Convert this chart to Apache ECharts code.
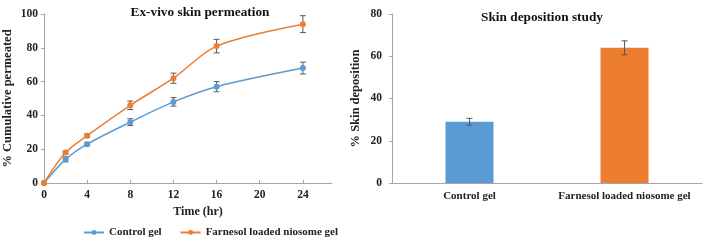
<!DOCTYPE html>
<html>
<head>
<meta charset="utf-8">
<script src="https://cdn.jsdelivr.net/npm/echarts@6/dist/echarts.min.js"></script>
<style>
html, body { margin: 0; padding: 0; background: #fff; }
#chart { width: 705px; height: 241px; }
</style>
</head>
<body>
<div id="chart"></div>
<script>
// permeation data (left)
var times = [0, 2, 4, 8, 12, 16, 24];
var controlPerm = [0, 14, 23, 36, 48, 57, 68];
var controlPermErr = [0, 1.5, 1, 2, 2.5, 3, 3.5];
var farnesolPerm = [0, 18, 28, 46, 62, 81, 94];
var farnesolPermErr = [0, 0.8, 1, 2.5, 3, 4, 5];

// deposition data (right)
var groups = ['Control gel', 'Farnesol loaded niosome gel'];
var deposition = [29, 64];
var depositionErr = [1.6, 3.3];

var serif = '"Liberation Serif", "Times New Roman", serif';
var axisGray = '#a6a6a6';
var blue = '#5b9bd5';
var orange = '#ed7d31';

function pairs(xs, ys) {
    return xs.map(function (x, i) { return [x, ys[i]]; });
}
function errData(xs, ys, es) {
    return xs.map(function (x, i) { return [x, ys[i], es[i]]; });
}

// error bar drawer, works for both value and category x axes
function errorBar(params, api) {
    var x = api.value(0);
    var y = api.value(1);
    var e = api.value(2);
    if (!e) return null;
    var top = api.coord([x, y + e]);
    var bot = api.coord([x, y - e]);
    var w = 3;
    var st = { stroke: '#595959', lineWidth: 1 };
    return {
        type: 'group',
        children: [
            { type: 'line', shape: { x1: top[0], y1: top[1], x2: bot[0], y2: bot[1] }, style: st },
            { type: 'line', shape: { x1: top[0] - w, y1: top[1], x2: top[0] + w, y2: top[1] }, style: st },
            { type: 'line', shape: { x1: bot[0] - w, y1: bot[1], x2: bot[0] + w, y2: bot[1] }, style: st }
        ]
    };
}

var myChart = echarts.init(document.getElementById('chart'));
var labelStyle = { fontFamily: serif, fontWeight: 'bold', fontSize: 11.5, color: '#222' };

option = {
    animation: false,
    title: [{
        text: 'Ex-vivo skin permeation',
        left: 195, top: 1, textAlign: 'center',
        textStyle: { fontFamily: serif, fontWeight: 'bold', fontSize: 13.3, color: '#111' }
    }, {
        text: 'Skin deposition study',
        left: 537, top: 6, textAlign: 'center',
        textStyle: { fontFamily: serif, fontWeight: 'bold', fontSize: 13.3, color: '#111' }
    }],
    legend: {
        data: ['Control gel', 'Farnesol loaded niosome gel'],
        left: 78, top: 222,
        itemWidth: 20, itemHeight: 6, itemGap: 18,
        textStyle: { fontFamily: serif, fontWeight: 'bold', fontSize: 11, color: '#222' }
    },
    grid: [
        { left: 43, right: 373, top: 14, bottom: 58 },
        { left: 392, right: 3, top: 14, bottom: 58 }
    ],
    xAxis: [{
        gridIndex: 0,
        type: 'value',
        min: 0, max: 26.7, interval: 4,
        name: 'Time (hr)',
        nameLocation: 'middle',
        nameGap: 21,
        nameTextStyle: { fontFamily: serif, fontWeight: 'bold', fontSize: 12, color: '#222', padding: [0, 0, 0, 20] },
        axisLine: { lineStyle: { color: axisGray } },
        axisTick: { inside: true, length: 3, lineStyle: { color: axisGray } },
        axisLabel: Object.assign({ margin: 6, showMaxLabel: false }, labelStyle),
        splitLine: { show: false }
    }, {
        gridIndex: 1,
        type: 'category',
        data: groups,
        axisLine: { lineStyle: { color: axisGray } },
        axisTick: { show: false },
        axisLabel: Object.assign({ margin: 8, interval: 0 }, labelStyle, { fontSize: 11 }),
        splitLine: { show: false }
    }],
    yAxis: [{
        gridIndex: 0,
        type: 'value',
        min: 0, max: 100, interval: 20,
        name: '% Cumulative permeated',
        nameLocation: 'middle',
        nameGap: 30,
        nameTextStyle: { fontFamily: serif, fontWeight: 'bold', fontSize: 12.5, color: '#222' },
        axisLine: { show: true, lineStyle: { color: axisGray } },
        axisTick: { show: true, length: 3, lineStyle: { color: axisGray } },
        axisLabel: Object.assign({ margin: 6 }, labelStyle),
        splitLine: { show: false }
    }, {
        gridIndex: 1,
        type: 'value',
        min: 0, max: 80, interval: 20,
        name: '% Skin deposition',
        nameLocation: 'middle',
        nameGap: 30,
        nameTextStyle: { fontFamily: serif, fontWeight: 'bold', fontSize: 12.5, color: '#222' },
        axisLine: { show: true, lineStyle: { color: axisGray } },
        axisTick: { show: true, length: 3, lineStyle: { color: axisGray } },
        axisLabel: Object.assign({ margin: 10 }, labelStyle),
        splitLine: { show: false }
    }],
    series: [{
        name: 'Control gel',
        type: 'line',
        xAxisIndex: 0, yAxisIndex: 0,
        smooth: 0.3,
        symbol: 'circle',
        symbolSize: 6,
        itemStyle: { color: blue },
        lineStyle: { color: blue, width: 1.5 },
        data: pairs(times, controlPerm)
    }, {
        name: 'Farnesol loaded niosome gel',
        type: 'line',
        xAxisIndex: 0, yAxisIndex: 0,
        smooth: 0.3,
        symbol: 'circle',
        symbolSize: 6,
        itemStyle: { color: orange },
        lineStyle: { color: orange, width: 1.5 },
        data: pairs(times, farnesolPerm)
    }, {
        type: 'custom',
        xAxisIndex: 0, yAxisIndex: 0,
        renderItem: errorBar,
        data: errData(times, controlPerm, controlPermErr),
        z: 3
    }, {
        type: 'custom',
        xAxisIndex: 0, yAxisIndex: 0,
        renderItem: errorBar,
        data: errData(times, farnesolPerm, farnesolPermErr),
        z: 3
    }, {
        type: 'bar',
        xAxisIndex: 1, yAxisIndex: 1,
        barWidth: 48,
        data: deposition.map(function (v, i) {
            return { value: v, itemStyle: { color: i === 0 ? blue : orange } };
        })
    }, {
        type: 'custom',
        xAxisIndex: 1, yAxisIndex: 1,
        renderItem: errorBar,
        data: errData([0, 1], deposition, depositionErr),
        z: 3
    }]
};
myChart.setOption(option);
</script>
</body>
</html>
